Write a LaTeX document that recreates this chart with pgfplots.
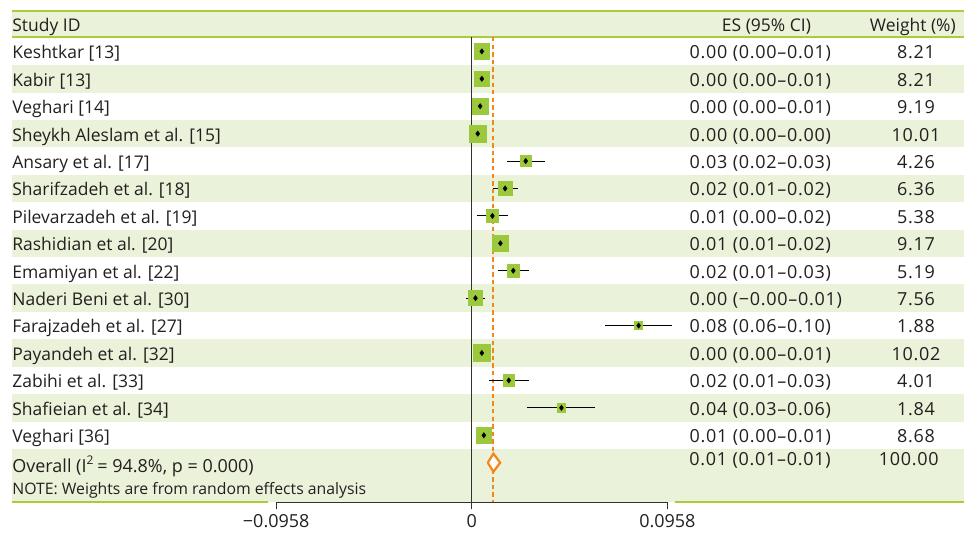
\documentclass[border=0pt]{standalone}
\usepackage{fontspec}
\setmainfont{Open Sans}
\usepackage{pgfplots}
\usepackage{pgfplotstable}
\pgfplotsset{compat=1.18}
\definecolor{bandgreen}{RGB}{234,242,217}
\definecolor{linegreen}{RGB}{166,206,57}
\definecolor{boxgreen}{RGB}{156,200,60}
\definecolor{esorange}{RGB}{245,135,25}
\definecolor{textgray}{RGB}{35,31,32}
\definecolor{axisgray}{RGB}{50,50,50}
\newcommand{\rowfont}{\fontsize{8.75}{11}\selectfont}
\newcommand{\numfont}{\fontsize{9}{11}\selectfont\addfontfeature{LetterSpace=4}}
\newcommand{\notefont}{\fontsize{7.9}{9}\selectfont}

\pgfplotstableread{
row es lo hi w
1 0.0049 0.0010 0.0090 8.21
2 0.0049 0.0010 0.0090 8.21
3 0.0041 0.0012 0.0071 9.19
4 0.0029 0.0020 0.0039 10.01
5 0.0264 0.0171 0.0359 4.26
6 0.0163 0.0103 0.0225 6.36
7 0.0101 0.0026 0.0176 5.38
8 0.0140 0.0111 0.0168 9.17
9 0.0203 0.0127 0.0282 5.19
10 0.0018 -0.0027 0.0066 7.56
11 0.0817 0.0653 0.0982 1.88
12 0.0049 0.0029 0.0068 10.02
13 0.0181 0.0085 0.0282 4.01
14 0.0439 0.0271 0.0604 1.84
15 0.0059 0.0022 0.0098 8.68
}\studies

% label columns
\newcommand{\xL}{-0.2252}
\newcommand{\xES}{0.1065}
\newcommand{\xW}{0.2175}
\newcommand{\xR}{0.24105}

\newcommand{\studyrow}[4]{%
  \node[anchor=base west, font=\rowfont, text=textgray, inner sep=0pt] at (axis cs:\xL,-#1-0.27) {#2};
  \node[anchor=base west, font=\numfont, text=textgray, inner sep=0pt] at (axis cs:\xES,-#1-0.27) {#3};
  \node[anchor=base, font=\numfont, text=textgray, inner sep=0pt] at (axis cs:\xW,-#1-0.27) {#4};
}
\newcommand{\band}[1]{%
  \fill[bandgreen] (axis cs:\xL,-#1+0.5) rectangle (axis cs:\xR,-#1-0.5);
}

\begin{document}
\begin{tikzpicture}
\begin{axis}[
  x=1022pt, y=13.725pt,
  xmin=-0.0958, xmax=0.0958,
  ymin=-17.45, ymax=0.874,
  clip=false,
  axis x line*=bottom,
  axis y line=none,
  axis line style={line width=0.6pt, color=axisgray},
  xtick={-0.0958,0,0.0958},
  xticklabels={−0.0958,0,0.0958},
  scaled x ticks=false,
  xtick align=outside,
  major tick length=3.5pt,
  every tick/.style={axisgray, line width=0.6pt},
  xticklabel style={font=\fontsize{9}{11}\selectfont, text=textgray, inner sep=1pt, yshift=-1.2pt},
  ytick=\empty,
]
% bounding box of the whole picture
\path (axis cs:-0.23107,0.874) rectangle (axis cs:0.24105,-18.54);
% bands
\fill[bandgreen] (axis cs:\xL,0.437) rectangle (axis cs:\xR,-0.474);
\band{2}\band{4}\band{6}\band{8}\band{10}\band{12}\band{14}
\fill[bandgreen] (axis cs:\xL,-15.5) rectangle (axis cs:\xR,-17.45);
% green rules
\draw[linegreen, line width=1pt] (axis cs:\xL,0.47) -- (axis cs:\xR,0.47);
\draw[linegreen, line width=1pt] (axis cs:\xL,-0.474) -- (axis cs:\xR,-0.474);
\draw[linegreen, line width=1pt] (axis cs:\xL,-17.45) -- (axis cs:-0.0999,-17.45);
\draw[linegreen, line width=1pt] (axis cs:0.0996,-17.45) -- (axis cs:\xR,-17.45);

% zero line
\addplot[draw=axisgray, line width=0.6pt, forget plot] coordinates {(0,-0.474) (0,-17.45)};
% overall ES line
\addplot[draw=esorange, line width=1.0pt, dash pattern=on 2.2pt off 1.6pt, forget plot] coordinates {(0.0106,-0.474) (0.0106,-17.45)};

% weight boxes
\addplot[scatter, only marks, mark=square*,
  scatter/use mapped color={draw=boxgreen, fill=boxgreen},
  visualization depends on={0.45+1.175*sqrt(\thisrow{w}) \as \half},
  scatter/@pre marker code/.append style={/tikz/mark size=\half},
  forget plot]
  table[x=es, y expr=-\thisrow{row}] {\studies};

% CIs and point estimates
\addplot[only marks, mark=diamond*, mark size=1.2pt, black,
  error bars/.cd, x dir=both, x explicit, error mark=none,
  error bar style={line width=0.5pt, black}]
  table[x=es, y expr=-\thisrow{row},
        x error plus expr=\thisrow{hi}-\thisrow{es},
        x error minus expr=\thisrow{es}-\thisrow{lo}] {\studies};

% overall diamond
\addplot[draw=esorange, line width=1.1pt, fill=white, line join=miter] coordinates
  {(0.0078,-16) (0.0106,-15.67) (0.0139,-16) (0.0106,-16.33) (0.0078,-16)};

% header
\node[anchor=base west, font=\rowfont, text=textgray, inner sep=0pt] at (axis cs:\xL,-0.28) {Study ID};
\node[anchor=base, font=\rowfont, text=textgray, inner sep=0pt] at (axis cs:0.1443,-0.28) {ES (95\% CI)};
\node[anchor=base, font=\rowfont, text=textgray, inner sep=0pt] at (axis cs:0.2160,-0.28) {Weight (\%)};

\studyrow{1}{Keshtkar [13]}{0.00 (0.00–0.01)}{8.21}
\studyrow{2}{Kabir [13]}{0.00 (0.00–0.01)}{8.21}
\studyrow{3}{Veghari [14]}{0.00 (0.00–0.01)}{9.19}
\studyrow{4}{Sheykh Aleslam et al. [15]}{0.00 (0.00–0.00)}{10.01}
\studyrow{5}{Ansary et al. [17]}{0.03 (0.02–0.03)}{4.26}
\studyrow{6}{Sharifzadeh et al. [18]}{0.02 (0.01–0.02)}{6.36}
\studyrow{7}{Pilevarzadeh et al. [19]}{0.01 (0.00–0.02)}{5.38}
\studyrow{8}{Rashidian et al. [20]}{0.01 (0.01–0.02)}{9.17}
\studyrow{9}{Emamiyan et al. [22]}{0.02 (0.01–0.03)}{5.19}
\studyrow{10}{Naderi Beni et al. [30]}{0.00 (−0.00–0.01)}{7.56}
\studyrow{11}{Farajzadeh et al. [27]}{0.08 (0.06–0.10)}{1.88}
\studyrow{12}{Payandeh et al. [32]}{0.00 (0.00–0.01)}{10.02}
\studyrow{13}{Zabihi et al. [33]}{0.02 (0.01–0.03)}{4.01}
\studyrow{14}{Shafieian et al. [34]}{0.04 (0.03–0.06)}{1.84}
\studyrow{15}{Veghari [36]}{0.01 (0.00–0.01)}{8.68}

% overall
\node[anchor=base west, font=\fontsize{9}{11}\selectfont, text=textgray, inner sep=0pt] at (axis cs:\xL,-16.35) {Overall (I\textsuperscript{2}\,= 94.8\%, p = 0.000)};
\node[anchor=base, font=\numfont, text=textgray, inner sep=0pt] at (axis cs:0.1412,-16.12) {0.01 (0.01–0.01)};
\node[anchor=base, font=\numfont, text=textgray, inner sep=0pt] at (axis cs:0.2140,-16.12) {100.00};
\node[anchor=base west, font=\notefont, text=textgray, inner sep=0pt] at (axis cs:\xL,-17.16) {NOTE: Weights are from random effects analysis};
\end{axis}
\end{tikzpicture}
\end{document}
